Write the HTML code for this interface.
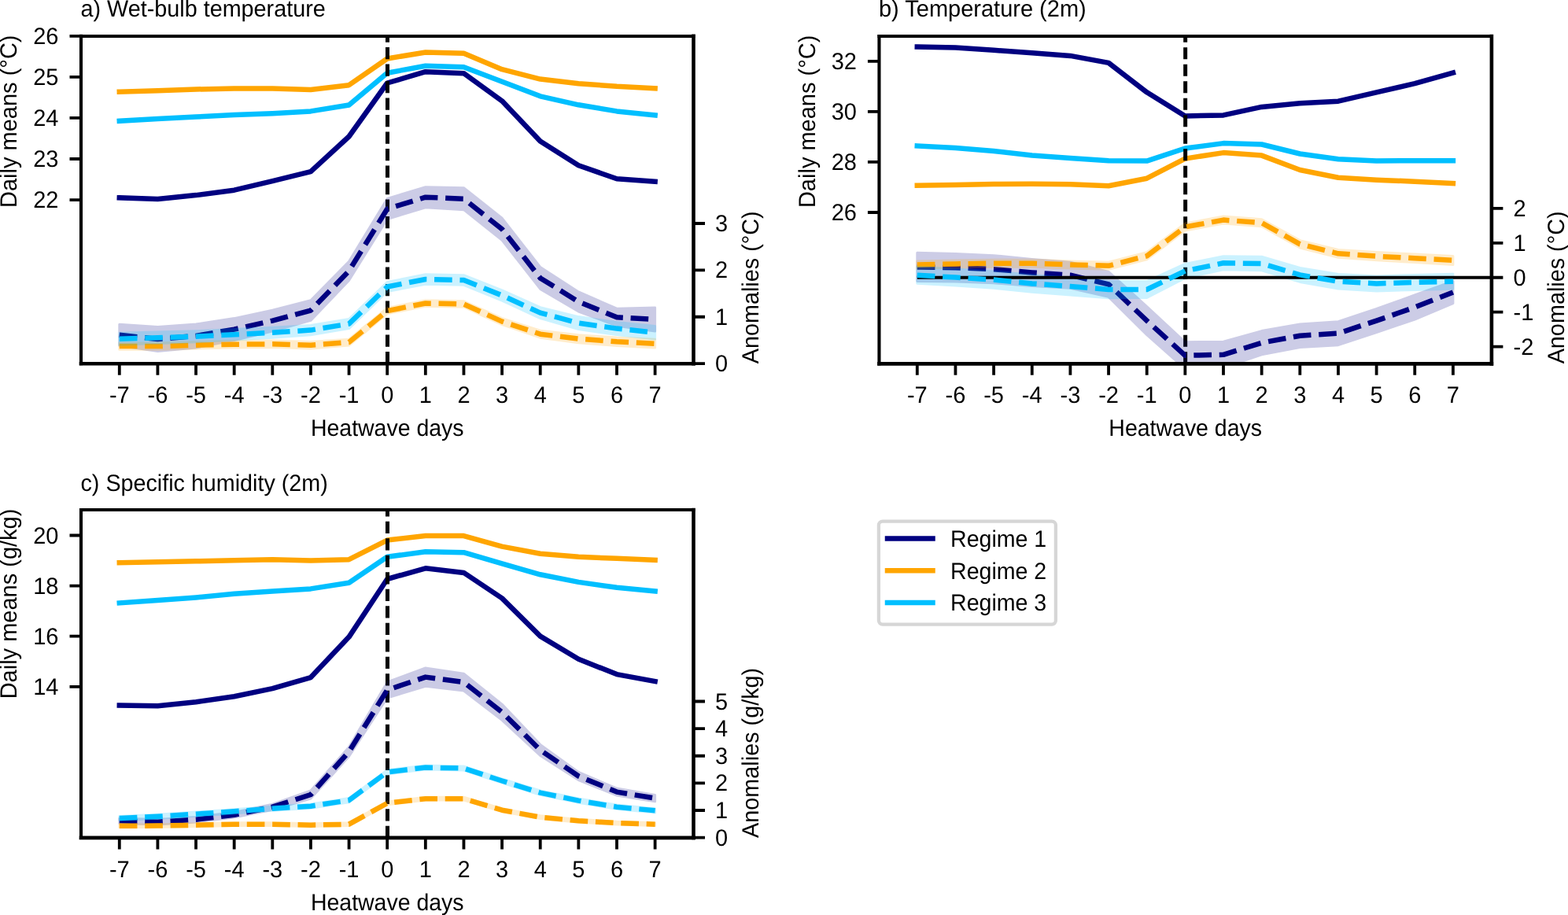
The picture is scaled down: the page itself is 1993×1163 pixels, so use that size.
<!DOCTYPE html>
<html><head><meta charset="utf-8"><title>Figure</title><style>html,body{margin:0;padding:0;background:#fff;overflow:hidden}svg{display:block}</style></head><body>
<svg width="1993" height="1163" viewBox="0 0 1993 1163" font-family="'Liberation Sans', Arial, Helvetica, sans-serif" font-size="29.8" text-rendering="geometricPrecision">
<rect width="100%" height="100%" fill="#fff"/>
<defs>
<clipPath id="clipa"><rect x="103" y="45.9" width="778.5" height="416.4"/></clipPath>
<clipPath id="clipb"><rect x="1117.45" y="46" width="778.45" height="416.35"/></clipPath>
<clipPath id="clipc"><rect x="103" y="648" width="778.5" height="416.9"/></clipPath>
</defs>
<g id="panela">
<g clip-path="url(#clipa)" fill="none" stroke-linejoin="round">
<polyline points="151.79,251.3 200.42,253.1 249.05,248.1 297.68,241.7 346.31,230.1 394.94,218.2 443.57,173.5 492.2,105.5 540.83,91.2 589.46,93.2 638.09,128.3 686.72,179.5 735.35,210.2 783.98,227.3 832.61,230.7" stroke="#000080" stroke-width="6.5" stroke-linecap="square"/>
<polyline points="151.79,116.7 200.42,115.3 249.05,113.5 297.68,112.5 346.31,112.5 394.94,113.9 443.57,108.2 492.2,74.5 540.83,66.5 589.46,67.7 638.09,88.2 686.72,100.6 735.35,106.2 783.98,109.8 832.61,112.3" stroke="#ffa500" stroke-width="6.5" stroke-linecap="square"/>
<polyline points="151.79,153.8 200.42,151 249.05,148.6 297.68,146 346.31,144.2 394.94,141.4 443.57,133.5 492.2,92.7 540.83,83.8 589.46,85.2 638.09,103.8 686.72,122.3 735.35,133.3 783.98,141.4 832.61,146.4" stroke="#00bfff" stroke-width="6.5" stroke-linecap="square"/>
<line x1="492.5" y1="462.3" x2="492.5" y2="45.9" stroke="#000" stroke-width="5.0" stroke-dasharray="15.2 6.3"/>
<g opacity="0.2"><polygon points="151.79,412.2 200.42,415.5 249.05,412 297.68,404.6 346.31,394.1 394.94,381.8 443.57,332.4 492.2,252.5 540.83,237.7 589.46,238.7 638.09,277.1 686.72,339.4 735.35,371 783.98,392.2 832.61,391.1 832.61,420.9 783.98,414.2 735.35,396 686.72,367.4 638.09,305.3 589.46,266.7 540.83,263.7 492.2,278.5 443.57,356.4 394.94,407.4 346.31,421.1 297.68,432.6 249.05,442 200.42,446.5 151.79,439.2" fill="#000080" stroke="#000080" stroke-width="3.0"/></g>
<polyline points="151.79,425.7 200.42,431 249.05,427 297.68,418.6 346.31,407.6 394.94,394.6 443.57,344.4 492.2,265.5 540.83,250.7 589.46,252.7 638.09,291.2 686.72,353.4 735.35,383.5 783.98,403.2 832.61,406" stroke="#000080" stroke-width="6.5" stroke-dasharray="22.65 9.75" stroke-linecap="butt"/>
<g opacity="0.2"><polygon points="151.79,435.9 200.42,435.9 249.05,434.5 297.68,433.5 346.31,433.1 394.94,434.5 443.57,431.2 492.2,391.4 540.83,381.8 589.46,382.8 638.09,404.6 686.72,420.2 735.35,425.7 783.98,429.1 832.61,431.3 832.61,442.1 783.98,439.5 735.35,435.7 686.72,429.2 638.09,412.6 589.46,390.2 540.83,389.2 492.2,398.8 443.57,439 394.94,442.9 346.31,441.5 297.68,441.9 249.05,442.9 200.42,444.3 151.79,444.3" fill="#ffa500" stroke="#ffa500" stroke-width="3.0"/></g>
<polyline points="151.79,440.1 200.42,440.1 249.05,438.7 297.68,437.7 346.31,437.3 394.94,438.7 443.57,435.1 492.2,395.1 540.83,385.5 589.46,386.5 638.09,408.6 686.72,424.7 735.35,430.7 783.98,434.3 832.61,436.7" stroke="#ffa500" stroke-width="6.5" stroke-dasharray="22.65 9.75" stroke-linecap="butt"/>
<g opacity="0.2"><polygon points="151.79,423.2 200.42,422 249.05,420.7 297.68,418.5 346.31,416.2 394.94,413.4 443.57,405.6 492.2,358.5 540.83,348.7 589.46,349.7 638.09,368.9 686.72,390.6 735.35,402.6 783.98,409.6 832.61,414.5 832.61,430.9 783.98,425.6 735.35,418.6 686.72,404.6 638.09,382.1 589.46,362.3 540.83,361.3 492.2,370.5 443.57,417.6 394.94,425.8 346.31,429.2 297.68,432.1 249.05,434.7 200.42,436.6 151.79,438.2" fill="#00bfff" stroke="#00bfff" stroke-width="3.0"/></g>
<polyline points="151.79,430.7 200.42,429.3 249.05,427.7 297.68,425.3 346.31,422.7 394.94,419.6 443.57,411.6 492.2,364.5 540.83,355 589.46,356 638.09,375.5 686.72,397.6 735.35,410.6 783.98,417.6 832.61,422.7" stroke="#00bfff" stroke-width="6.5" stroke-dasharray="22.65 9.75" stroke-linecap="butt"/>
</g>
<g stroke="#000" stroke-linecap="square"><line x1="103" y1="45.9" x2="103" y2="462.3" stroke-width="4.1"/><line x1="881.5" y1="45.9" x2="881.5" y2="462.3" stroke-width="4.6"/><line x1="103" y1="45.9" x2="881.5" y2="45.9" stroke-width="4.0"/><line x1="103" y1="462.3" x2="881.5" y2="462.3" stroke-width="4.6"/></g>
<path d="M151.79,462.3v14.5M200.42,462.3v14.5M249.05,462.3v14.5M297.68,462.3v14.5M346.31,462.3v14.5M394.94,462.3v14.5M443.57,462.3v14.5M492.2,462.3v14.5M540.83,462.3v14.5M589.46,462.3v14.5M638.09,462.3v14.5M686.72,462.3v14.5M735.35,462.3v14.5M783.98,462.3v14.5M832.61,462.3v14.5M103,254.06h-14.5M103,202.01h-14.5M103,149.96h-14.5M103,97.91h-14.5M103,45.86h-14.5M881.5,462.1h14.5M881.5,402.73h14.5M881.5,343.36h14.5M881.5,283.99h14.5" stroke="#000" stroke-width="3.8" fill="none"/>
<text x="151.79" y="512.1" text-anchor="middle" textLength="25.79" lengthAdjust="spacingAndGlyphs">-7</text>
<text x="200.42" y="512.1" text-anchor="middle" textLength="25.79" lengthAdjust="spacingAndGlyphs">-6</text>
<text x="249.05" y="512.1" text-anchor="middle" textLength="25.79" lengthAdjust="spacingAndGlyphs">-5</text>
<text x="297.68" y="512.1" text-anchor="middle" textLength="25.79" lengthAdjust="spacingAndGlyphs">-4</text>
<text x="346.31" y="512.1" text-anchor="middle" textLength="25.79" lengthAdjust="spacingAndGlyphs">-3</text>
<text x="394.94" y="512.1" text-anchor="middle" textLength="25.79" lengthAdjust="spacingAndGlyphs">-2</text>
<text x="443.57" y="512.1" text-anchor="middle" textLength="25.79" lengthAdjust="spacingAndGlyphs">-1</text>
<text x="492.2" y="512.1" text-anchor="middle" textLength="16.13" lengthAdjust="spacingAndGlyphs">0</text>
<text x="540.83" y="512.1" text-anchor="middle" textLength="16.13" lengthAdjust="spacingAndGlyphs">1</text>
<text x="589.46" y="512.1" text-anchor="middle" textLength="16.13" lengthAdjust="spacingAndGlyphs">2</text>
<text x="638.09" y="512.1" text-anchor="middle" textLength="16.13" lengthAdjust="spacingAndGlyphs">3</text>
<text x="686.72" y="512.1" text-anchor="middle" textLength="16.13" lengthAdjust="spacingAndGlyphs">4</text>
<text x="735.35" y="512.1" text-anchor="middle" textLength="16.13" lengthAdjust="spacingAndGlyphs">5</text>
<text x="783.98" y="512.1" text-anchor="middle" textLength="16.13" lengthAdjust="spacingAndGlyphs">6</text>
<text x="832.61" y="512.1" text-anchor="middle" textLength="16.13" lengthAdjust="spacingAndGlyphs">7</text>
<text x="74.5" y="264.16" text-anchor="end" textLength="32.26" lengthAdjust="spacingAndGlyphs">22</text>
<text x="74.5" y="212.11" text-anchor="end" textLength="32.26" lengthAdjust="spacingAndGlyphs">23</text>
<text x="74.5" y="160.06" text-anchor="end" textLength="32.26" lengthAdjust="spacingAndGlyphs">24</text>
<text x="74.5" y="108.01" text-anchor="end" textLength="32.26" lengthAdjust="spacingAndGlyphs">25</text>
<text x="74.5" y="55.96" text-anchor="end" textLength="32.26" lengthAdjust="spacingAndGlyphs">26</text>
<text x="909" y="472.2" textLength="16.13" lengthAdjust="spacingAndGlyphs">0</text>
<text x="909" y="412.83" textLength="16.13" lengthAdjust="spacingAndGlyphs">1</text>
<text x="909" y="353.46" textLength="16.13" lengthAdjust="spacingAndGlyphs">2</text>
<text x="909" y="294.09" textLength="16.13" lengthAdjust="spacingAndGlyphs">3</text>
<text x="102.5" y="20.9" textLength="311.27" lengthAdjust="spacingAndGlyphs">a) Wet-bulb temperature</text>
<text x="492.25" y="554.3" text-anchor="middle" textLength="194.70" lengthAdjust="spacingAndGlyphs">Heatwave days</text>
<text transform="translate(21.2,44.5) rotate(-90)" text-anchor="end" textLength="219.47" lengthAdjust="spacingAndGlyphs">Daily means (°C)</text>
<text transform="translate(963.5,462.3) rotate(-90)" text-anchor="start" textLength="193.95" lengthAdjust="spacingAndGlyphs">Anomalies (°C)</text>
</g>
<g id="panelb">
<g clip-path="url(#clipb)" fill="none" stroke-linejoin="round">
<polyline points="1165.8,59.5 1214.45,60.5 1263.1,63.8 1311.75,67.3 1360.4,70.9 1409.05,79.9 1457.7,117.3 1506.35,147.4 1555,146.4 1603.65,135.9 1652.3,131.3 1700.95,128.7 1749.6,117.3 1798.25,106.2 1846.9,92.6" stroke="#000080" stroke-width="6.5" stroke-linecap="square"/>
<polyline points="1165.8,235.7 1214.45,235.1 1263.1,234.1 1311.75,233.7 1360.4,234.3 1409.05,236.3 1457.7,226.7 1506.35,201.6 1555,194.1 1603.65,197.6 1652.3,216 1700.95,225.7 1749.6,228.7 1798.25,230.7 1846.9,233.1" stroke="#ffa500" stroke-width="6.5" stroke-linecap="square"/>
<polyline points="1165.8,185.5 1214.45,188.1 1263.1,191.9 1311.75,197.6 1360.4,201 1409.05,204.2 1457.7,204.6 1506.35,188.5 1555,182.1 1603.65,183.5 1652.3,195.5 1700.95,202.2 1749.6,204.6 1798.25,204.2 1846.9,204.2" stroke="#00bfff" stroke-width="6.5" stroke-linecap="square"/>
<line x1="1506.65" y1="462.35" x2="1506.65" y2="46" stroke="#000" stroke-width="5.0" stroke-dasharray="15.2 6.3"/>
<g opacity="0.2"><polygon points="1165.8,321.2 1214.45,322.4 1263.1,324.7 1311.75,329.4 1360.4,333.2 1409.05,345.4 1457.7,389.5 1506.35,434.8 1555,434.3 1603.65,420.6 1652.3,411.9 1700.95,408.7 1749.6,392.5 1798.25,375 1846.9,357.4 1846.9,385.6 1798.25,406 1749.6,422.7 1700.95,438.7 1652.3,441.5 1603.65,450.8 1555,467.3 1506.35,468.8 1457.7,425.7 1409.05,377.4 1360.4,366.2 1311.75,363.4 1263.1,359.7 1214.45,358 1165.8,357.6" fill="#000080" stroke="#000080" stroke-width="3.0"/></g>
<polyline points="1165.8,339.4 1214.45,340.2 1263.1,342.2 1311.75,346.4 1360.4,349.7 1409.05,361.4 1457.7,407.6 1506.35,451.8 1555,450.8 1603.65,435.7 1652.3,426.7 1700.95,423.7 1749.6,407.6 1798.25,390.5 1846.9,371.5" stroke="#000080" stroke-width="6.5" stroke-dasharray="22.65 9.75" stroke-linecap="butt"/>
<g opacity="0.2"><polygon points="1165.8,331.9 1214.45,330.9 1263.1,330.2 1311.75,330.2 1360.4,331.9 1409.05,333.3 1457.7,320.8 1506.35,284 1555,275.1 1603.65,278.7 1652.3,305.6 1700.95,317.4 1749.6,320.6 1798.25,323 1846.9,325.4 1846.9,336.4 1798.25,333.6 1749.6,330.8 1700.95,327.2 1652.3,315 1603.65,287.7 1555,284.1 1506.35,293 1457.7,329.8 1409.05,342.3 1360.4,340.9 1311.75,339.2 1263.1,339.2 1214.45,339.9 1165.8,340.9" fill="#ffa500" stroke="#ffa500" stroke-width="3.0"/></g>
<polyline points="1165.8,336.4 1214.45,335.4 1263.1,334.7 1311.75,334.7 1360.4,336.4 1409.05,337.8 1457.7,325.3 1506.35,288.5 1555,279.6 1603.65,283.2 1652.3,310.3 1700.95,322.3 1749.6,325.7 1798.25,328.3 1846.9,330.9" stroke="#ffa500" stroke-width="6.5" stroke-dasharray="22.65 9.75" stroke-linecap="butt"/>
<g opacity="0.2"><polygon points="1165.8,339.3 1214.45,342.1 1263.1,344.9 1311.75,349.5 1360.4,353.1 1409.05,357.3 1457.7,357.5 1506.35,335.4 1555,325.8 1603.65,326.3 1652.3,340.4 1700.95,348.5 1749.6,350.9 1798.25,349.5 1846.9,348.3 1846.9,367.3 1798.25,368.5 1749.6,369.9 1700.95,367.1 1652.3,358.4 1603.65,343.7 1555,342.8 1506.35,353.4 1457.7,378.5 1409.05,378.7 1360.4,374.9 1311.75,371.3 1263.1,366.3 1214.45,363.1 1165.8,360.3" fill="#00bfff" stroke="#00bfff" stroke-width="3.0"/></g>
<line x1="1165.8" y1="352.8" x2="1895.9" y2="352.8" stroke="#000" stroke-width="4.0"/>
<polyline points="1165.8,349.8 1214.45,352.6 1263.1,355.6 1311.75,360.4 1360.4,364 1409.05,368 1457.7,368 1506.35,344.4 1555,334.3 1603.65,335 1652.3,349.4 1700.95,357.8 1749.6,360.4 1798.25,359 1846.9,357.8" stroke="#00bfff" stroke-width="6.5" stroke-dasharray="22.65 9.75" stroke-linecap="butt"/>
</g>
<g stroke="#000" stroke-linecap="square"><line x1="1117.45" y1="46" x2="1117.45" y2="462.35" stroke-width="4.1"/><line x1="1895.9" y1="46" x2="1895.9" y2="462.35" stroke-width="4.6"/><line x1="1117.45" y1="46" x2="1895.9" y2="46" stroke-width="4.0"/><line x1="1117.45" y1="462.35" x2="1895.9" y2="462.35" stroke-width="4.6"/></g>
<path d="M1165.8,462.35v14.5M1214.45,462.35v14.5M1263.1,462.35v14.5M1311.75,462.35v14.5M1360.4,462.35v14.5M1409.05,462.35v14.5M1457.7,462.35v14.5M1506.35,462.35v14.5M1555,462.35v14.5M1603.65,462.35v14.5M1652.3,462.35v14.5M1700.95,462.35v14.5M1749.6,462.35v14.5M1798.25,462.35v14.5M1846.9,462.35v14.5M1117.45,270h-14.5M1117.45,205.94h-14.5M1117.45,141.88h-14.5M1117.45,77.82h-14.5M1895.9,440.65h14.5M1895.9,396.7h14.5M1895.9,352.75h14.5M1895.9,308.8h14.5M1895.9,264.85h14.5" stroke="#000" stroke-width="3.8" fill="none"/>
<text x="1165.8" y="512.15" text-anchor="middle" textLength="25.79" lengthAdjust="spacingAndGlyphs">-7</text>
<text x="1214.45" y="512.15" text-anchor="middle" textLength="25.79" lengthAdjust="spacingAndGlyphs">-6</text>
<text x="1263.1" y="512.15" text-anchor="middle" textLength="25.79" lengthAdjust="spacingAndGlyphs">-5</text>
<text x="1311.75" y="512.15" text-anchor="middle" textLength="25.79" lengthAdjust="spacingAndGlyphs">-4</text>
<text x="1360.4" y="512.15" text-anchor="middle" textLength="25.79" lengthAdjust="spacingAndGlyphs">-3</text>
<text x="1409.05" y="512.15" text-anchor="middle" textLength="25.79" lengthAdjust="spacingAndGlyphs">-2</text>
<text x="1457.7" y="512.15" text-anchor="middle" textLength="25.79" lengthAdjust="spacingAndGlyphs">-1</text>
<text x="1506.35" y="512.15" text-anchor="middle" textLength="16.13" lengthAdjust="spacingAndGlyphs">0</text>
<text x="1555" y="512.15" text-anchor="middle" textLength="16.13" lengthAdjust="spacingAndGlyphs">1</text>
<text x="1603.65" y="512.15" text-anchor="middle" textLength="16.13" lengthAdjust="spacingAndGlyphs">2</text>
<text x="1652.3" y="512.15" text-anchor="middle" textLength="16.13" lengthAdjust="spacingAndGlyphs">3</text>
<text x="1700.95" y="512.15" text-anchor="middle" textLength="16.13" lengthAdjust="spacingAndGlyphs">4</text>
<text x="1749.6" y="512.15" text-anchor="middle" textLength="16.13" lengthAdjust="spacingAndGlyphs">5</text>
<text x="1798.25" y="512.15" text-anchor="middle" textLength="16.13" lengthAdjust="spacingAndGlyphs">6</text>
<text x="1846.9" y="512.15" text-anchor="middle" textLength="16.13" lengthAdjust="spacingAndGlyphs">7</text>
<text x="1088.95" y="280.1" text-anchor="end" textLength="32.26" lengthAdjust="spacingAndGlyphs">26</text>
<text x="1088.95" y="216.04" text-anchor="end" textLength="32.26" lengthAdjust="spacingAndGlyphs">28</text>
<text x="1088.95" y="151.98" text-anchor="end" textLength="32.26" lengthAdjust="spacingAndGlyphs">30</text>
<text x="1088.95" y="87.92" text-anchor="end" textLength="32.26" lengthAdjust="spacingAndGlyphs">32</text>
<text x="1923.5" y="450.75" textLength="25.79" lengthAdjust="spacingAndGlyphs">-2</text>
<text x="1923.5" y="406.8" textLength="25.79" lengthAdjust="spacingAndGlyphs">-1</text>
<text x="1923.5" y="362.85" textLength="16.13" lengthAdjust="spacingAndGlyphs">0</text>
<text x="1923.5" y="318.9" textLength="16.13" lengthAdjust="spacingAndGlyphs">1</text>
<text x="1923.5" y="274.95" textLength="16.13" lengthAdjust="spacingAndGlyphs">2</text>
<text x="1116.95" y="21" textLength="263.78" lengthAdjust="spacingAndGlyphs">b) Temperature (2m)</text>
<text x="1506.68" y="554.35" text-anchor="middle" textLength="194.70" lengthAdjust="spacingAndGlyphs">Heatwave days</text>
<text transform="translate(1035.65,44.6) rotate(-90)" text-anchor="end" textLength="219.47" lengthAdjust="spacingAndGlyphs">Daily means (°C)</text>
<text transform="translate(1987.9,462.35) rotate(-90)" text-anchor="start" textLength="193.95" lengthAdjust="spacingAndGlyphs">Anomalies (°C)</text>
</g>
<g id="panelc">
<g clip-path="url(#clipc)" fill="none" stroke-linejoin="round">
<polyline points="151.79,896.6 200.42,897.2 249.05,892.2 297.68,885.2 346.31,875.1 394.94,861.1 443.57,809.6 492.2,736 540.83,722.3 589.46,727.9 638.09,760.4 686.72,808.6 735.35,837.7 783.98,857.1 832.61,866" stroke="#000080" stroke-width="6.5" stroke-linecap="square"/>
<polyline points="151.79,715.3 200.42,714.3 249.05,713.3 297.68,712.2 346.31,711.2 394.94,712.6 443.57,711.2 492.2,686.6 540.83,681.1 589.46,681.1 638.09,694.6 686.72,703.8 735.35,707.8 783.98,709.8 832.61,711.8" stroke="#ffa500" stroke-width="6.5" stroke-linecap="square"/>
<polyline points="151.79,766.4 200.42,763 249.05,759.4 297.68,754.8 346.31,751.4 394.94,748.4 443.57,740.7 492.2,707.8 540.83,701.2 589.46,702.2 638.09,716.3 686.72,730.3 735.35,739.9 783.98,746.8 832.61,751.4" stroke="#00bfff" stroke-width="6.5" stroke-linecap="square"/>
<line x1="492.5" y1="1064.9" x2="492.5" y2="648" stroke="#000" stroke-width="5.0" stroke-dasharray="15.2 6.3"/>
<g opacity="0.2"><polygon points="151.79,1040.1 200.42,1041.5 249.05,1038.5 297.68,1032.4 346.31,1022.2 394.94,1005 443.57,949.4 492.2,867 540.83,848.9 589.46,856.2 638.09,895.1 686.72,946.4 735.35,981.5 783.98,1002.1 832.61,1010.5 832.61,1018.7 783.98,1011.1 735.35,991.5 686.72,960.4 638.09,915.3 589.46,878 540.83,872.3 492.2,887 443.57,961.4 394.94,1015 346.31,1029.2 297.68,1039 249.05,1044.9 200.42,1047.9 151.79,1046.5" fill="#000080" stroke="#000080" stroke-width="3.0"/></g>
<polyline points="151.79,1043.3 200.42,1044.7 249.05,1041.7 297.68,1035.7 346.31,1025.7 394.94,1010 443.57,955.4 492.2,877 540.83,860.6 589.46,867.1 638.09,905.2 686.72,953.4 735.35,986.5 783.98,1006.6 832.61,1014.6" stroke="#000080" stroke-width="6.5" stroke-dasharray="22.65 9.75" stroke-linecap="butt"/>
<g opacity="0.2"><polygon points="151.79,1047.9 200.42,1047.7 249.05,1046.8 297.68,1045.8 346.31,1045.8 394.94,1046.8 443.57,1045.8 492.2,1019 540.83,1013.3 589.46,1013.3 638.09,1027.8 686.72,1036.8 735.35,1041.4 783.98,1044.2 832.61,1045.8 832.61,1049.6 783.98,1048 735.35,1045.2 686.72,1040.6 638.09,1031.6 589.46,1017.1 540.83,1017.1 492.2,1022.8 443.57,1049.6 394.94,1050.6 346.31,1049.6 297.68,1049.6 249.05,1050.6 200.42,1051.5 151.79,1051.7" fill="#ffa500" stroke="#ffa500" stroke-width="3.0"/></g>
<polyline points="151.79,1049.8 200.42,1049.6 249.05,1048.7 297.68,1047.7 346.31,1047.7 394.94,1048.7 443.57,1047.7 492.2,1020.9 540.83,1015.2 589.46,1015.2 638.09,1029.7 686.72,1038.7 735.35,1043.3 783.98,1046.1 832.61,1047.7" stroke="#ffa500" stroke-width="6.5" stroke-dasharray="22.65 9.75" stroke-linecap="butt"/>
<g opacity="0.2"><polygon points="151.79,1037.4 200.42,1035.2 249.05,1032.1 297.68,1028.7 346.31,1025.1 394.94,1022.1 443.57,1014.6 492.2,978.7 540.83,972.9 589.46,973.9 638.09,989.9 686.72,1005 735.35,1015 783.98,1023.1 832.61,1027.7 832.61,1032.9 783.98,1028.3 735.35,1020.2 686.72,1010.2 638.09,995.1 589.46,979.1 540.83,978.1 492.2,983.9 443.57,1019.8 394.94,1027.3 346.31,1030.3 297.68,1033.9 249.05,1037.3 200.42,1040.4 151.79,1042.6" fill="#00bfff" stroke="#00bfff" stroke-width="3.0"/></g>
<polyline points="151.79,1040 200.42,1037.8 249.05,1034.7 297.68,1031.3 346.31,1027.7 394.94,1024.7 443.57,1017.2 492.2,981.3 540.83,975.5 589.46,976.5 638.09,992.5 686.72,1007.6 735.35,1017.6 783.98,1025.7 832.61,1030.3" stroke="#00bfff" stroke-width="6.5" stroke-dasharray="22.65 9.75" stroke-linecap="butt"/>
</g>
<g stroke="#000" stroke-linecap="square"><line x1="103" y1="648" x2="103" y2="1064.9" stroke-width="4.1"/><line x1="881.5" y1="648" x2="881.5" y2="1064.9" stroke-width="4.6"/><line x1="103" y1="648" x2="881.5" y2="648" stroke-width="4.0"/><line x1="103" y1="1064.9" x2="881.5" y2="1064.9" stroke-width="4.6"/></g>
<path d="M151.79,1064.9v14.5M200.42,1064.9v14.5M249.05,1064.9v14.5M297.68,1064.9v14.5M346.31,1064.9v14.5M394.94,1064.9v14.5M443.57,1064.9v14.5M492.2,1064.9v14.5M540.83,1064.9v14.5M589.46,1064.9v14.5M638.09,1064.9v14.5M686.72,1064.9v14.5M735.35,1064.9v14.5M783.98,1064.9v14.5M832.61,1064.9v14.5M103,872.8h-14.5M103,808.7h-14.5M103,744.6h-14.5M103,680.5h-14.5M881.5,1064.6h14.5M881.5,1029.98h14.5M881.5,995.36h14.5M881.5,960.74h14.5M881.5,926.12h14.5M881.5,891.5h14.5" stroke="#000" stroke-width="3.8" fill="none"/>
<text x="151.79" y="1114.7" text-anchor="middle" textLength="25.79" lengthAdjust="spacingAndGlyphs">-7</text>
<text x="200.42" y="1114.7" text-anchor="middle" textLength="25.79" lengthAdjust="spacingAndGlyphs">-6</text>
<text x="249.05" y="1114.7" text-anchor="middle" textLength="25.79" lengthAdjust="spacingAndGlyphs">-5</text>
<text x="297.68" y="1114.7" text-anchor="middle" textLength="25.79" lengthAdjust="spacingAndGlyphs">-4</text>
<text x="346.31" y="1114.7" text-anchor="middle" textLength="25.79" lengthAdjust="spacingAndGlyphs">-3</text>
<text x="394.94" y="1114.7" text-anchor="middle" textLength="25.79" lengthAdjust="spacingAndGlyphs">-2</text>
<text x="443.57" y="1114.7" text-anchor="middle" textLength="25.79" lengthAdjust="spacingAndGlyphs">-1</text>
<text x="492.2" y="1114.7" text-anchor="middle" textLength="16.13" lengthAdjust="spacingAndGlyphs">0</text>
<text x="540.83" y="1114.7" text-anchor="middle" textLength="16.13" lengthAdjust="spacingAndGlyphs">1</text>
<text x="589.46" y="1114.7" text-anchor="middle" textLength="16.13" lengthAdjust="spacingAndGlyphs">2</text>
<text x="638.09" y="1114.7" text-anchor="middle" textLength="16.13" lengthAdjust="spacingAndGlyphs">3</text>
<text x="686.72" y="1114.7" text-anchor="middle" textLength="16.13" lengthAdjust="spacingAndGlyphs">4</text>
<text x="735.35" y="1114.7" text-anchor="middle" textLength="16.13" lengthAdjust="spacingAndGlyphs">5</text>
<text x="783.98" y="1114.7" text-anchor="middle" textLength="16.13" lengthAdjust="spacingAndGlyphs">6</text>
<text x="832.61" y="1114.7" text-anchor="middle" textLength="16.13" lengthAdjust="spacingAndGlyphs">7</text>
<text x="74.5" y="882.9" text-anchor="end" textLength="32.26" lengthAdjust="spacingAndGlyphs">14</text>
<text x="74.5" y="818.8" text-anchor="end" textLength="32.26" lengthAdjust="spacingAndGlyphs">16</text>
<text x="74.5" y="754.7" text-anchor="end" textLength="32.26" lengthAdjust="spacingAndGlyphs">18</text>
<text x="74.5" y="690.6" text-anchor="end" textLength="32.26" lengthAdjust="spacingAndGlyphs">20</text>
<text x="909" y="1074.7" textLength="16.13" lengthAdjust="spacingAndGlyphs">0</text>
<text x="909" y="1040.08" textLength="16.13" lengthAdjust="spacingAndGlyphs">1</text>
<text x="909" y="1005.46" textLength="16.13" lengthAdjust="spacingAndGlyphs">2</text>
<text x="909" y="970.84" textLength="16.13" lengthAdjust="spacingAndGlyphs">3</text>
<text x="909" y="936.22" textLength="16.13" lengthAdjust="spacingAndGlyphs">4</text>
<text x="909" y="901.6" textLength="16.13" lengthAdjust="spacingAndGlyphs">5</text>
<text x="102.5" y="624" textLength="314.28" lengthAdjust="spacingAndGlyphs">c) Specific humidity (2m)</text>
<text x="492.25" y="1156.9" text-anchor="middle" textLength="194.70" lengthAdjust="spacingAndGlyphs">Heatwave days</text>
<text transform="translate(21.2,646.6) rotate(-90)" text-anchor="end" textLength="241.74" lengthAdjust="spacingAndGlyphs">Daily means (g/kg)</text>
<text transform="translate(963.5,1064.9) rotate(-90)" text-anchor="start" textLength="216.06" lengthAdjust="spacingAndGlyphs">Anomalies (g/kg)</text>
</g>
<g id="legend">
<rect x="1116.9" y="662.6" width="225" height="131" rx="5" ry="5" fill="#fff" stroke="#d6d6d6" stroke-width="4.3"/>
<line x1="1128" y1="684.4" x2="1185.5" y2="684.4" stroke="#000080" stroke-width="6.5" stroke-linecap="square"/>
<text x="1208" y="694.9" textLength="122.25" lengthAdjust="spacingAndGlyphs">Regime 1</text>
<line x1="1128" y1="725.15" x2="1185.5" y2="725.15" stroke="#ffa500" stroke-width="6.5" stroke-linecap="square"/>
<text x="1208" y="735.65" textLength="122.25" lengthAdjust="spacingAndGlyphs">Regime 2</text>
<line x1="1128" y1="765.9" x2="1185.5" y2="765.9" stroke="#00bfff" stroke-width="6.5" stroke-linecap="square"/>
<text x="1208" y="776.4" textLength="122.25" lengthAdjust="spacingAndGlyphs">Regime 3</text>
</g>
</svg>
</body></html>
